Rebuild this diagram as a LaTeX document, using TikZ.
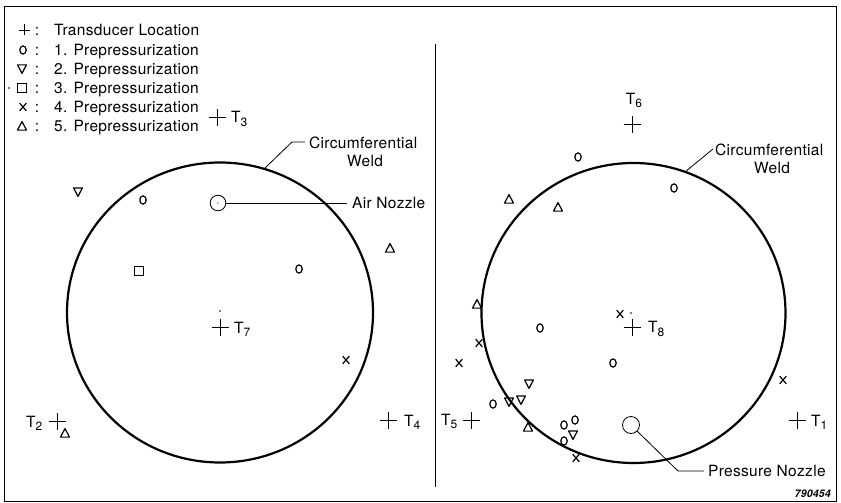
\documentclass[tikz,border=0pt]{standalone}
\usepackage{fontspec}
\setmainfont{TeX Gyre Heros}[LetterSpace=2]
\newcommand\tsb[1]{\raisebox{-3.5pt}{\fontsize{12}{12}\selectfont #1}}
\newcommand\mkO[1]{\draw[mk] #1 ellipse (3.2pt and 4.1pt);}
\newcommand\mkX[1]{\draw[mk] #1 ++(-3.3pt,-3.8pt) -- ++(6.6pt,7.6pt) #1 ++(-3.3pt,3.8pt) -- ++(6.6pt,-7.6pt);}
\newcommand\mkDn[1]{\draw[mk,line join=round] #1 ++(-4.4pt,4.1pt) -- ++(8.8pt,0pt) -- ++(-4.4pt,-8.5pt) -- cycle;}
\newcommand\mkUp[1]{\draw[mk,line join=round] #1 ++(0pt,4.4pt) -- ++(4.5pt,-8.5pt) -- ++(-9pt,0pt) -- cycle;}
\newcommand\mkSq[1]{\draw[mk] #1 ++(-4.5pt,-4.5pt) rectangle ++(9pt,9pt);}
\newcommand\mkCross[1]{\draw[xh] #1 ++(-8.5pt,0pt) -- ++(17pt,0pt) #1 ++(0pt,-8.5pt) -- ++(0pt,17pt);}
\newcommand\mkPlus[1]{\draw[xh] #1 ++(-5.5pt,0pt) -- ++(11pt,0pt) #1 ++(0pt,-5.5pt) -- ++(0pt,11pt);}
\begin{document}
\begin{tikzpicture}[x=1pt,y=-1pt,
  frame/.style={line width=0.9pt},
  weld/.style={line width=2.2pt},
  mk/.style={line width=1.2pt},
  xh/.style={line width=0.8pt},
  lead/.style={line width=0.8pt},
  txt/.style={inner sep=0pt, font=\fontsize{15.5}{18}\selectfont},
  tlab/.style={txt, anchor=base west}]
\useasboundingbox (0,0) rectangle (841,503);
\fill[white] (0,0) rectangle (841,503);
% frame and divider
\draw[frame] (4,6) rectangle (836,501);
\coordinate (dvt) at (435,44);
\coordinate (dvb) at (435,487);
\draw[frame] (dvt) -- (dvb);

% legend
\mkPlus{(24,30)}
\node[txt,anchor=base] (c1) at (37,35.5) {:};
\node[tlab] (l1) at (54,35.5) {Transducer Location};
\mkO{(23,50)}
\node[txt,anchor=base] (c2) at (37,55.5) {:};
\node[tlab] (l2) at (54,55.5) {1. Prepressurization};
\mkDn{(22,69)}
\node[txt,anchor=base] (c3) at (37,74.5) {:};
\node[tlab] (l3) at (54,74.5) {2. Prepressurization};
\fill (9,88) circle (0.8pt);
\mkSq{(22,88)}
\node[txt,anchor=base] (c4) at (37,93.5) {:};
\node[tlab] (l4) at (54,93.5) {3. Prepressurization};
\mkX{(23,107)}
\node[txt,anchor=base] (c5) at (37,112.5) {:};
\node[tlab] (l5) at (54,112.5) {4. Prepressurization};
\mkUp{(22,126)}
\node[txt,anchor=base] (c6) at (37,131.5) {:};
\node[tlab] (l6) at (54,131.5) {5. Prepressurization};

% ---------- left view ----------
\draw[weld] (220,312.5) ellipse (153pt and 150pt);
\fill (220,311) circle (0.8pt);
\mkCross{(220,327)}
\node[tlab] (t7) at (234,333) {T\tsb{7}};
\mkCross{(217,117)}
\node[tlab] (t3) at (231,122.5) {T\tsb{3}};
\node[tlab] (t2) at (26,427) {T\tsb{2}};
\mkCross{(57,421)}
\mkUp{(65,433)}
\mkCross{(388,420)}
\node[tlab] (t4) at (404,426) {T\tsb{4}};

\node[circle,draw,lead,minimum size=15.6pt,inner sep=0pt] (airnoz) at (218,203) {};
\fill (airnoz.center) circle (0.6pt);
\node[tlab] (airtxt) at (352,208.5) {Air Nozzle};
\coordinate (airend) at (347,203);
\draw[lead] (airnoz.east) -- (airend);

\coordinate (wl1) at (265,168);
\coordinate (wl2) at (292,142);
\coordinate (wl3) at (305,142);
\draw[lead] (wl1) -- (wl2) -- (wl3);
\node[tlab] (cwl) at (309,148.5) {Circumferential};
\node[txt,anchor=base] (wwl) at (365,166.5) {Weld};

\mkDn{(78,192)}
\mkO{(143,200)}
\mkUp{(390,248)}
\mkSq{(139,271)}
\mkO{(299,269)}
\mkX{(346,360)}

% ---------- right view ----------
\draw[weld] (633.5,313) ellipse (152pt and 150pt);
\node[txt,anchor=base] (t6) at (634,104) {T\tsb{6}};
\mkCross{(632,124)}
\mkCross{(632,327)}
\fill (631,313) circle (0.8pt);
\node[tlab] (t8) at (648,332.5) {T\tsb{8}};
\node[tlab] (t5) at (441,425) {T\tsb{5}};
\mkCross{(471,420)}
\mkCross{(797,420)}
\node[tlab] (t1) at (811,426) {T\tsb{1}};

\coordinate (wr1) at (685,172);
\coordinate (wr2) at (713,149);
\draw[lead] (wr1) -- (wr2);
\node[tlab] (cwr) at (715,155.5) {Circumferential};
\node[txt,anchor=base] (wwr) at (772,173.5) {Weld};

\node[circle,draw,lead,minimum size=17pt,inner sep=0pt] (pnoz) at (631,425) {};
\coordinate (pbend) at (678,471);
\coordinate (pend) at (704,471);
\draw[lead] (pnoz.-45) -- (pbend) -- (pend);
\node[tlab] (ptxt) at (708,476.5) {Pressure Nozzle};

\node[inner sep=0pt,anchor=base east,font=\fontsize{10.5}{12}\selectfont\bfseries\itshape] (num) at (831,497) {790454};

\mkO{(578,157)}
\mkO{(674,188)}
\mkUp{(509,199)}
\mkUp{(558,207)}
\mkUp{(477,304)}
\mkX{(479,343)}
\mkX{(459,363)}
\mkO{(540,328)}
\mkX{(620,314)}
\mkO{(613,363)}
\mkX{(783,380)}
\mkDn{(529,384)}
\mkDn{(521,400)}
\mkO{(493,404)}
\mkDn{(509,402)}
\mkUp{(528,427)}
\mkO{(564,425)}
\mkO{(575,420)}
\mkDn{(573,435)}
\mkO{(564,441)}
\mkX{(576,458)}
\end{tikzpicture}
\end{document}
